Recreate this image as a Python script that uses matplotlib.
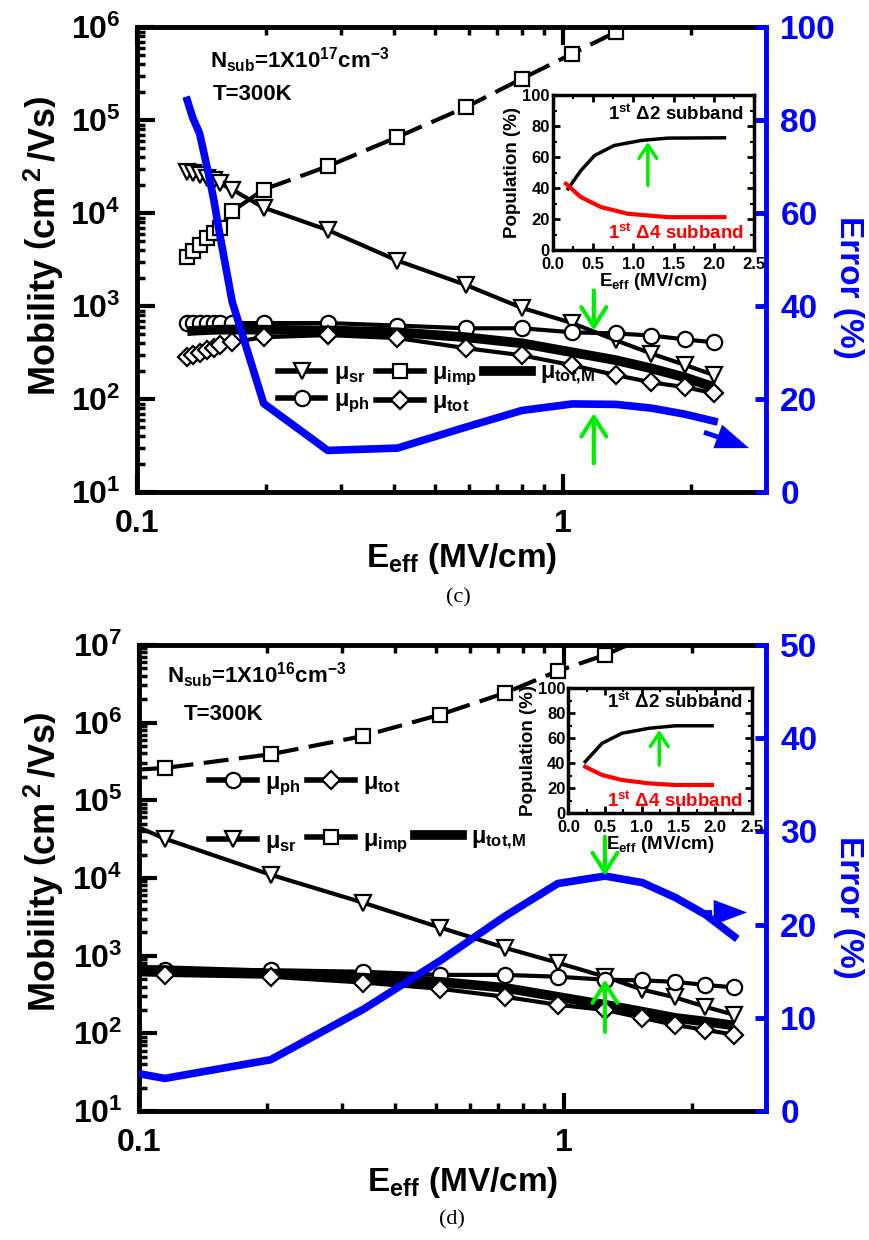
import math
import matplotlib
matplotlib.use("Agg")
import matplotlib.pyplot as plt
from matplotlib.lines import Line2D
from matplotlib.ticker import LogLocator, NullFormatter, FuncFormatter, MultipleLocator, AutoMinorLocator

plt.rcParams['font.family'] = ['Liberation Sans', 'DejaVu Sans']
plt.rcParams['font.weight'] = 'bold'
plt.rcParams['axes.labelweight'] = 'bold'
plt.rcParams['mathtext.fontset'] = 'custom'
for k in ('rm', 'it', 'bf', 'sf'):
    plt.rcParams['mathtext.' + k] = 'Liberation Sans:bold'

# ---------------- panel (c): Nsub = 1e17 ----------------
e_c = [0.131, 0.135, 0.140, 0.146, 0.151, 0.156, 0.167, 0.198, 0.28, 0.408,
       0.59, 0.80, 1.05, 1.33, 1.61, 1.93, 2.26]
sr_c = [2.75e4, 2.7e4, 2.56e4, 2.4e4, 2.26e4, 2.1e4, 1.8e4, 1.15e4, 6.6e3, 3.1e3,
        1.7e3, 960, 660, 430, 310, 234, 182]
imp_c = [3.4e3, 3.9e3, 4.6e3, 5.4e3, 6.2e3, 6.9e3, 1.05e4, 1.8e4, 3.2e4, 6.6e4,
         1.38e5, 2.8e5, 5.2e5, 8.9e5, 1.5e6, 2.5e6, 4e6]
ph_c = [660, 660, 660, 660, 660, 660, 660, 660, 660, 620,
        580, 580, 525, 510, 485, 440, 410]
tot_c = [283, 297, 312, 336, 353, 381, 410, 465, 490, 455,
         355, 297, 232, 182, 152, 135, 116]
totm_c = [540, 545, 550, 555, 558, 560, 562, 560, 550, 525,
          465, 400, 320, 263, 215, 172, 135]
err_c = [84.3, 80.5, 77.2, 69.7, 63.2, 55.7, 41.0, 19.1, 9.0, 9.5,
         14.0, 17.6, 19.0, 18.9, 18.1, 16.8, 15.3]

# inset (c): subband population
pe_c = [0.19, 0.35, 0.52, 0.76, 1.10, 1.43, 2.13]
d2_c = [39.8, 51.6, 61.3, 67.7, 71.0, 72.5, 72.7]
pe4_c = [0.165, 0.35, 0.60, 0.93, 1.43, 2.13]
d4_c = [43.0, 34.4, 28.0, 23.7, 21.5, 21.5]

# ---------------- panel (d): Nsub = 1e16 ----------------
e_d = [0.08, 0.115, 0.204, 0.337, 0.511, 0.727, 0.968, 1.25, 1.53, 1.83, 2.15, 2.52]
sr_d = [7.5e4, 3.2e4, 1.1e4, 4.8e3, 2.3e3, 1.26e3, 810, 535, 365, 290, 220, 173]
imp_d = [2.3e5, 2.6e5, 3.9e5, 6.7e5, 1.26e6, 2.4e6, 4.6e6, 7.4e6, 1.2e7, 1.8e7, 2.6e7, 3.6e7]
ph_d = [670, 660, 650, 620, 565, 565, 535, 490, 480, 460, 420, 390]
tot_d = [590, 565, 535, 450, 375, 295, 233, 200, 158, 128, 111, 96]
totm_d = [670, 650, 590, 520, 460, 385, 295, 233, 190, 158, 142, 126]
err_d = [4.8, 3.5, 5.5, 10.9, 16.1, 20.9, 24.4, 25.2, 24.5, 22.9, 21.1, 18.7]

pe_d = [0.23, 0.46, 0.73, 1.10, 1.46, 1.96]
d2_d = [41.3, 56.0, 64.0, 68.0, 70.0, 70.0]
d4_d = [37.3, 30.7, 26.7, 24.0, 22.7, 22.7]

# arrows (data coordinates)
green_c = {'down': ((1.18, 43.4), (1.18, 34.8)), 'up': ((1.18, 6.2), (1.18, 17.0)),
           'inset': ((1.18, 42), (1.18, 70))}
green_d = {'down': ((1.25, 29.4), (1.25, 25.2)), 'up': ((1.25, 8.5), (1.25, 14.1)),
           'inset': ((1.24, 38.7), (1.24, 66.7))}
trend_c = ((2.14, 12.9), (2.73, 9.5))
trend_d = ((2.06, 21.3), (2.70, 21.3))

BLUE = '#0000ff'
GREEN = '#00ee00'
MS = 11
MEW = 1.6
LW = 3


def log_label(v, pos):
    return r'$10^{%d}$' % int(round(math.log10(v)))


def draw_panel(rect, e, sr, imp, ph, tot, totm, err, ylim, err_max, err_step,
               nsub_txt, nsub_pos, t_pos, leg_order, leg_anchor, leg_spacing, col_space,
               green, trend, xlab_y, ylab_xy, elab_xy):
    ax = fig.add_axes(rect)
    ax.set_xscale('log')
    ax.set_yscale('log')
    ax.set_xlim(0.1, 3)
    ax.set_ylim(*ylim)

    ax.plot(e, sr, '-', color='k', lw=LW, marker='v', ms=MS, mfc='white', mec='k', mew=MEW)
    ax.plot(e, imp, '-', color='k', lw=LW, dashes=(6, 2.5), marker='s', ms=MS - 1,
            mfc='white', mec='k', mew=MEW)
    ax.plot(e, ph, '-', color='k', lw=LW, marker='o', ms=MS, mfc='white', mec='k', mew=MEW)
    ax.plot(e, totm, '-', color='k', lw=7, solid_capstyle='butt')
    ax.plot(e, tot, '-', color='k', lw=LW, marker='D', ms=MS - 2, mfc='white', mec='k', mew=MEW)

    h = {
        'sr': (Line2D([], [], color='k', lw=4, marker='v', ms=MS, mfc='white', mew=MEW), r'$\mu_{sr}$'),
        'imp': (Line2D([], [], color='k', lw=4, marker='s', ms=MS - 1, mfc='white', mew=MEW), r'$\mu_{imp}$'),
        'ph': (Line2D([], [], color='k', lw=4, marker='o', ms=MS, mfc='white', mew=MEW), r'$\mu_{ph}$'),
        'tot': (Line2D([], [], color='k', lw=4, marker='D', ms=MS - 2, mfc='white', mew=MEW), r'$\mu_{tot}$'),
        'totm': (Line2D([], [], color='k', lw=7), r'$\mu_{tot{,}M}$'),
        'blank': (Line2D([], [], color='none'), ''),
    }
    ax.legend([h[k][0] for k in leg_order], [h[k][1] for k in leg_order], ncol=3,
              loc='center left', bbox_to_anchor=leg_anchor, frameon=False,
              fontsize=17, handlelength=2.0, handletextpad=0.35, columnspacing=col_space,
              labelspacing=leg_spacing, borderpad=0, borderaxespad=0)

    ax.xaxis.set_major_locator(LogLocator(base=10))
    ax.xaxis.set_minor_locator(LogLocator(base=10, subs=range(2, 10)))
    ax.xaxis.set_major_formatter(FuncFormatter(lambda v, p: '%g' % v))
    ax.xaxis.set_minor_formatter(NullFormatter())
    ax.yaxis.set_major_locator(LogLocator(base=10))
    ax.yaxis.set_minor_locator(LogLocator(base=10, subs=range(2, 10)))
    ax.yaxis.set_major_formatter(FuncFormatter(log_label))
    ax.yaxis.set_minor_formatter(NullFormatter())
    ax.tick_params(which='both', direction='in', top=True, right=False, labelsize=23)
    ax.tick_params(which='major', length=13, width=3)
    ax.tick_params(which='minor', length=6, width=2.5)
    ax.tick_params(axis='y', pad=12)
    ax.tick_params(axis='x', pad=12)
    for s in ('left', 'top', 'bottom'):
        ax.spines[s].set_linewidth(3.5)
    ax.spines['right'].set_visible(False)

    ax.set_xlabel(r'E$_{eff}$ (MV/cm)', fontsize=24, fontweight='bold')
    ax.xaxis.set_label_coords(0.516, xlab_y)
    ax.set_ylabel(r'Mobility $\left(\mathrm{cm}^{\,2}\mathrm{\,/Vs}\right)$', fontsize=26,
                  fontweight='bold', va='center')
    ax.yaxis.set_label_coords(*ylab_xy)

    ax.text(nsub_pos[0], nsub_pos[1], nsub_txt, transform=ax.transAxes, fontsize=16, va='baseline')
    ax.text(t_pos[0], t_pos[1], 'T=300K', transform=ax.transAxes, fontsize=16, va='baseline')

    ax2 = ax.twinx()
    ax2.set_ylim(0, err_max)
    ax2.yaxis.set_major_locator(MultipleLocator(err_step))
    ax2.plot(e, err, '-', color=BLUE, lw=5.5, solid_joinstyle='round')
    for s in ('left', 'top', 'bottom'):
        ax2.spines[s].set_visible(False)
    ax2.spines['right'].set_color(BLUE)
    ax2.spines['right'].set_linewidth(3.5)
    ax2.tick_params(axis='y', direction='in', colors=BLUE, length=8, width=3.5,
                    labelsize=24, pad=10)
    ax2.set_ylabel('Error (%)', fontsize=24, fontweight='bold', color=BLUE,
                   rotation=270, va='center', ha='center')
    ax2.yaxis.set_label_coords(*elab_xy)

    # dashed trend arrow
    (x0, y0), (x1, y1) = trend
    xm = x0 + (x1 - x0) * 0.5
    ym = y0 + (y1 - y0) * 0.5
    ax2.plot([x0, xm], [y0, ym], color=BLUE, lw=3.5, dashes=(3, 1.5))
    ax2.annotate('', xy=(x1, y1), xytext=(xm, ym),
                 arrowprops=dict(arrowstyle='-|>,head_width=0.45,head_length=1.2',
                                 color=BLUE, lw=0.01, mutation_scale=20, shrinkA=0, shrinkB=0))

    for key in ('down', 'up'):
        tail, tip = green[key]
        ax2.annotate('', xy=tip, xytext=tail,
                     arrowprops=dict(arrowstyle='->,head_width=0.45,head_length=0.7',
                                     color=GREEN, lw=3, mutation_scale=20, shrinkA=0, shrinkB=0))
    return ax, ax2


def draw_inset(rect, xs2, ys2, xs4, ys4, garrow, top_y, bot_y):
    ai = fig.add_axes(rect, zorder=10)
    ai.plot(xs2, ys2, color='k', lw=2.5)
    ai.plot(xs4, ys4, color='#ff0000', lw=3)
    ai.set_xlim(0, 2.5)
    ai.set_ylim(0, 100)
    ai.xaxis.set_major_locator(MultipleLocator(0.5))
    ai.yaxis.set_major_locator(MultipleLocator(20))
    ai.xaxis.set_minor_locator(AutoMinorLocator(2))
    ai.yaxis.set_minor_locator(AutoMinorLocator(2))
    ai.xaxis.set_major_formatter(FuncFormatter(lambda v, p: '%.1f' % v))
    ai.tick_params(which='both', direction='in', top=True, right=True, labelsize=12)
    ai.tick_params(axis='x', pad=5)
    ai.tick_params(axis='y', pad=2)
    ai.tick_params(which='major', length=5, width=2)
    ai.tick_params(which='minor', length=3, width=1.5)
    for s in ai.spines.values():
        s.set_linewidth(2.5)
    ai.set_xlabel(r'E$_{eff}$ (MV/cm)', fontsize=13.5, fontweight='bold', labelpad=-1)
    ai.set_ylabel('Population (%)', fontsize=13.5, fontweight='bold', labelpad=1)
    ai.text(0.95, top_y, r'1$^{\rm st}$ Δ2 subband', transform=ai.transAxes, fontsize=13.5,
            ha='right', va='center')
    ai.text(0.95, bot_y, r'1$^{\rm st}$ Δ4 subband', transform=ai.transAxes, fontsize=13.5,
            ha='right', va='center', color='#ff0000')
    tail, tip = garrow
    ai.annotate('', xy=tip, xytext=tail,
                arrowprops=dict(arrowstyle='->,head_width=0.4,head_length=0.6',
                                color=GREEN, lw=2.5, mutation_scale=16, shrinkA=0, shrinkB=0))
    return ai


fig = plt.figure(figsize=(8.69, 12.40), dpi=100)

draw_panel([0.158, 0.603, 0.724, 0.375], e_c, sr_c, imp_c, ph_c, tot_c, totm_c, err_c,
           (10, 1e6), 100, 20,
           r'N$_{sub}$=1X10$^{17}$cm$^{-3}$', (0.116, 0.912), (0.12, 0.843),
           ['sr', 'ph', 'imp', 'tot', 'totm'], (0.224, 0.224), 0.1, 0.3,
           green_c, trend_c, -0.105, (-0.148, 0.53), (1.13, 0.44))
draw_inset([0.636, 0.798, 0.232, 0.125], pe_c, d2_c, pe4_c, d4_c, green_c['inset'], 0.88, 0.11)

draw_panel([0.160, 0.104, 0.722, 0.376], e_d, sr_d, imp_d, ph_d, tot_d, totm_d, err_d,
           (10, 1e7), 50, 10,
           r'N$_{sub}$=1X10$^{16}$cm$^{-3}$', (0.045, 0.918), (0.072, 0.839),
           ['ph', 'sr', 'tot', 'imp', 'blank', 'totm'], (0.112, 0.64), 1.35, 0.3,
           green_d, trend_d, -0.115, (-0.152, 0.535), (1.13, 0.436))
draw_inset([0.654, 0.344, 0.211, 0.101], pe_d, d2_d, pe_d, d4_d, green_d['inset'], 0.89, 0.10)

fig.text(458 / 869, 1 - 598 / 1240, '(c)', family='Liberation Serif', weight='normal',
         fontsize=16, ha='center', va='center')
fig.text(452 / 869, 1 - 1220 / 1240, '(d)', family='Liberation Serif', weight='normal',
         fontsize=16, ha='center', va='center')

fig.savefig('out.png', dpi=100)
